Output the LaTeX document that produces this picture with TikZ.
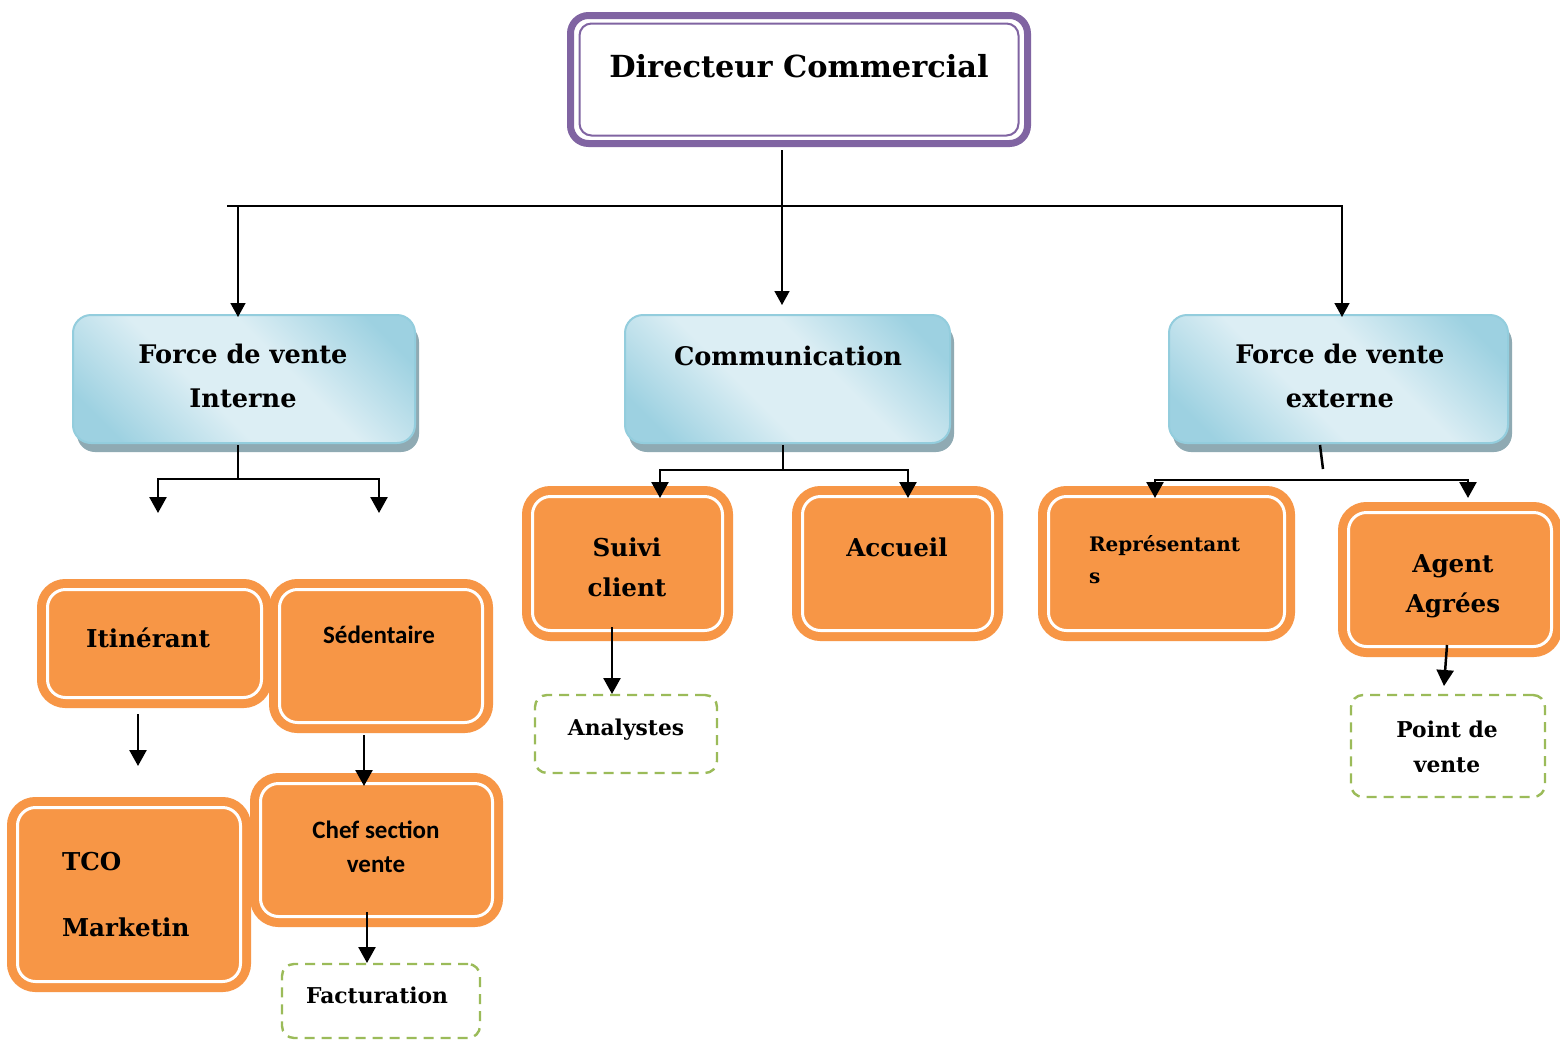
\documentclass[tikz,border=0pt]{standalone}
\usepackage{fontspec}
\setmainfont{DejaVu Serif}
\newfontfamily\calfont{Carlito}
\usetikzlibrary{calc,arrows.meta,shadows}
\definecolor{orgC}{HTML}{F79646}
\definecolor{purpC}{HTML}{8064A2}
\definecolor{greenC}{HTML}{9BBB59}
\definecolor{bdark}{HTML}{9DD1E1}
\definecolor{blite}{HTML}{DCEEF4}
\definecolor{bborder}{HTML}{93CDDD}
\definecolor{shadowC}{HTML}{8FAAB3}
\pgfdeclarehorizontalshading{bluesh}{100bp}{color(0bp)=(bdark); color(22bp)=(bdark); color(42bp)=(blite); color(58bp)=(blite); color(78bp)=(bdark); color(100bp)=(bdark)}
\newcommand\mlc[1]{\begin{tabular}[t]{@{}c@{}}#1\end{tabular}}
\newcommand\mll[1]{\begin{tabular}[t]{@{}l@{}}#1\end{tabular}}
% text placed with its (first) baseline at the node centre, shifted by (#1,#2)
\newcommand\ctext[3]{\raisebox{#2}[0pt][0pt]{\makebox[0pt][c]{\hspace*{#1}\hspace*{#1}#3}}}
\newcommand\ltext[3]{\raisebox{#2}[0pt][0pt]{\makebox[0pt][l]{\hspace*{#1}#3}}}
\tikzset{
  titlebox/.style={draw=purpC, fill=white, line width=3.5pt, rounded corners=9pt, outer sep=0pt, inner sep=0pt},
  bluebox/.style={draw=bborder, line width=1pt, shading=bluesh, shading angle=45, rounded corners=9pt, outer sep=0pt, inner sep=0pt,
    drop shadow={shadow xshift=2pt, shadow yshift=-4.5pt, fill=shadowC, opacity=1}},
  orangebox/.style={draw=orgC, fill=orgC, double=white, double distance=1.5pt, line width=4.5pt, rounded corners=9pt, outer sep=0pt, inner sep=0pt},
  dashbox/.style={draw=greenC, fill=white, line width=1.2pt, dash pattern=on 5pt off 3.5pt, rounded corners=6pt, outer sep=0pt, inner sep=0pt},
  fmain/.style={font=\bfseries\fontsize{12.3}{20}\selectfont},
  fcal/.style={font=\calfont\bfseries\fontsize{12.5}{17}\selectfont},
  fsmall/.style={font=\bfseries\fontsize{10.9}{17.5}\selectfont},
  topconn/.style={line width=0.75pt, black},
  toparrow/.style={topconn, -{Triangle[length=7pt,width=7.5pt]}},
  conn/.style={line width=1.25pt, black},
  arrowconn/.style={conn, -{Triangle[length=8pt,width=8.5pt]}}
}
\begin{document}
\begin{tikzpicture}[x=0.5pt, y=-0.5pt]
\fill[white] (0,0) rectangle (1560,1040);
\useasboundingbox (0,0) rectangle (1560,1040);

% title
\node[titlebox, minimum width=228.5pt, minimum height=64pt, font=\bfseries\fontsize{15.2}{18}\selectfont]
  (dir) at (799,79.5) {\ctext{0pt}{1.25pt}{Directeur Commercial}};
\draw[purpC, line width=1pt, rounded corners=6pt] ($(dir.north west)+(9,8)$) rectangle ($(dir.south east)+(-9,-8)$);

% blue boxes
\node[bluebox, minimum width=171pt, minimum height=64pt, font=\bfseries\fontsize{12.8}{22}\selectfont]
  (fvi) at (244,379) {\ctext{-0.5pt}{8pt}{\mlc{Force de vente\\Interne}}};
\node[bluebox, minimum width=162.5pt, minimum height=64pt, font=\bfseries\fontsize{12.8}{22}\selectfont]
  (com) at (787.5,379) {\ctext{0.25pt}{7pt}{Communication}};
\node[bluebox, minimum width=169.5pt, minimum height=64pt, font=\bfseries\fontsize{12.8}{22}\selectfont]
  (fve) at (1338.5,379) {\ctext{0.75pt}{8pt}{\mlc{Force de vente\\externe}}};

% orange boxes
\node[orangebox, minimum width=107pt, minimum height=54pt, fmain]
  (itin) at (154.5,643.5) {\ctext{-3.25pt}{-1.75pt}{Itinérant}};
\node[orangebox, minimum width=101.5pt, minimum height=66.5pt, fcal]
  (sed) at (381,656) {\ctext{-1pt}{6.5pt}{Sédentaire}};
\node[orangebox, minimum width=111.5pt, minimum height=87pt, font=\bfseries\fontsize{12.3}{33}\selectfont]
  (tco) at (129,894.5) {\ltext{-33.5pt}{12.25pt}{\mll{TCO\\Marketin}}};
\node[orangebox, minimum width=116pt, minimum height=66.5pt, fcal]
  (chef) at (376.5,850) {\ctext{-0.25pt}{6pt}{\mlc{Chef section\\vente}}};
\node[orangebox, minimum width=95pt, minimum height=67pt, fmain]
  (suivi) at (627.5,563.5) {\ctext{-0.25pt}{3.75pt}{\mlc{Suivi\\client}}};
\node[orangebox, minimum width=95pt, minimum height=67pt, fmain]
  (acc) at (897.5,563.5) {\ctext{-0.25pt}{3.75pt}{Accueil}};
\node[orangebox, minimum width=118pt, minimum height=67pt, font=\bfseries\fontsize{10}{16}\selectfont]
  (rep) at (1166.5,563.5) {\ltext{-38.75pt}{6.25pt}{\mll{Représentant\\s}}};
\node[orangebox, minimum width=101.5pt, minimum height=67pt, fmain]
  (agent) at (1450,579.5) {\ctext{1.5pt}{3.75pt}{\mlc{Agent\\Agrées}}};

% dashed boxes
\node[dashbox, minimum width=91pt, minimum height=39pt, fsmall]
  (ana) at (626,734) {\ctext{0pt}{-0.5pt}{Analystes}};
\node[dashbox, minimum width=99pt, minimum height=37pt, fsmall]
  (fact) at (381,1001) {\ctext{-2pt}{-1pt}{Facturation}};
\node[dashbox, minimum width=97pt, minimum height=51pt, fsmall]
  (pdv) at (1448,746) {\ctext{-0.5pt}{4.5pt}{\mlc{Point de\\vente}}};

% free ends
\coordinate (hl) at (227,206);
\coordinate (fiL) at (158,513);
\coordinate (fiR) at (379,513);
\coordinate (itArr) at (138,766);

% top connectors
\draw[toparrow] ($(dir.south)+(-17,6.5)$) -- ($(com.north)+(-5.5,-10)$);
\draw[toparrow] (hl) -| ($(fve.north)+(3.5,2)$);
\draw[toparrow] ($(fvi.north)+(-6,-109)$) -- ($(fvi.north)+(-6,2)$);

% force de vente interne
\draw[arrowconn] ($(fvi.south)+(-6,2)$) -- ++(0,34) -| (fiL);
\draw[arrowconn] ($(fvi.south)+(-6,36)$) -| (fiR);
\draw[arrowconn] ($(itin.south)+(-16.5,16.5)$) -- (itArr);
\draw[arrowconn] ($(sed.south)+(-17,12.5)$) -- ($(chef.north)+(-12.5,2.5)$);
\draw[arrowconn] ($(chef.south)+(-9.5,-4.5)$) -- ($(fact.north)+(-14,-1)$);

% communication
\draw[arrowconn] ($(com.south)+(-4.5,2)$) -- ++(0,25) -| ($(suivi.north)+(32.5,1.5)$);
\draw[arrowconn] ($(com.south)+(-4.5,27)$) -| ($(acc.north)+(10.5,1.5)$);
\draw[arrowconn] ($(suivi.south)+(-15.5,-3.5)$) -- ($(ana.north)+(-14,-1)$);

% force de vente externe
\draw[conn] ($(fve.south)+(-18.5,2)$) -- ($(fve.south)+(-15.5,26)$);
\draw[arrowconn] ($(fve.south)+(-15.5,37)$) -| ($(rep.north)+(-11.5,1.5)$);
\draw[arrowconn] ($(fve.south)+(-15.5,37)$) -| ($(agent.north)+(18,-14.5)$);
\draw[arrowconn] ($(agent.south)+(-3,-1.5)$) -- ($(pdv.north)+(-4,-9)$);
\end{tikzpicture}
\end{document}
